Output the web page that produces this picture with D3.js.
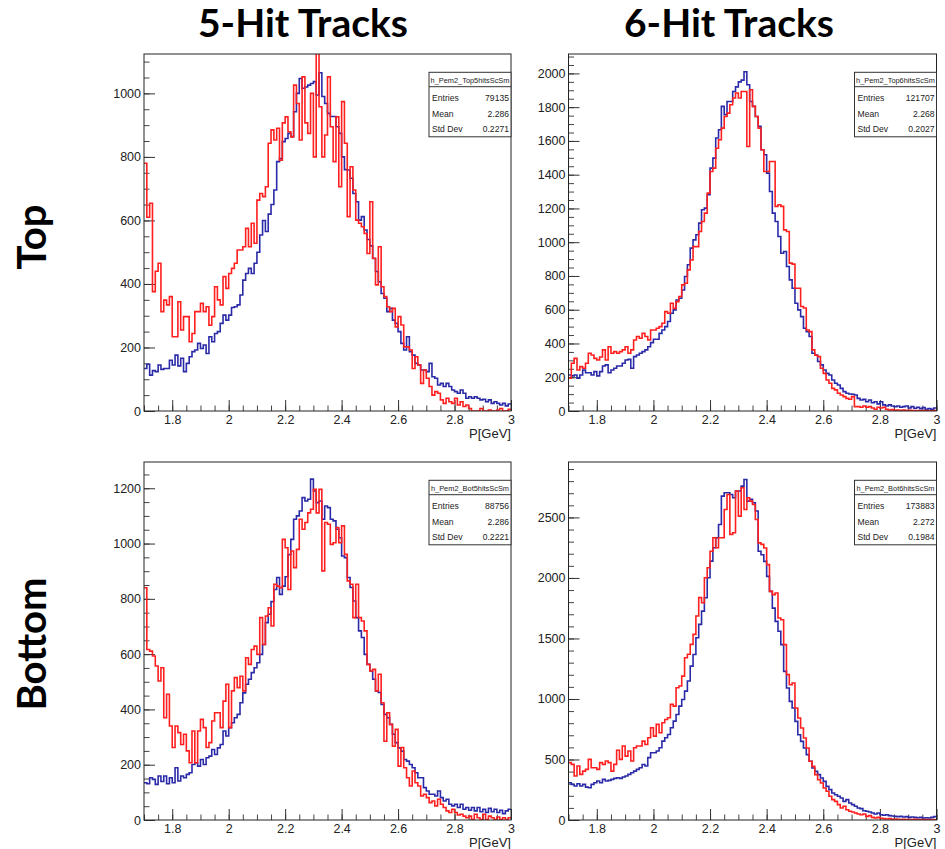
<!DOCTYPE html>
<html>
<head>
<meta charset="utf-8">
<script src="https://cdn.jsdelivr.net/npm/d3@7"></script>
<style>
  body { margin: 0; background: #fff; }
  svg text { font-family: "Liberation Sans", Arial, Helvetica, sans-serif; }
  .title { font-family: Lato, "Open Sans", sans-serif; font-weight: 700; }
</style>
</head>
<body>
<svg id="chart" width="945" height="849"></svg>
<script>
// Momentum spectra: 130 bins of 0.01 GeV starting at 1.70 GeV.
const binStart = 1.7;
const binWidth = 0.01;

const top5Blue = [
  134,147,113,127,124,145,131,134,134,160,
  145,176,142,166,124,150,171,187,192,213,
  197,208,181,234,218,244,250,276,302,286,
  302,326,328,334,365,412,433,449,433,465,
  500,554,600,565,620,650,696,785,795,848,
  858,874,864,942,1000,1047,1016,1020,1026,1031,
  1037,995,1065,990,968,937,927,927,895,874,
  800,760,759,733,685,659,601,612,570,540,
  520,480,439,407,370,355,313,323,286,276,
  250,213,192,234,187,176,150,145,129,129,
  124,150,108,103,82,87,77,87,77,66,
  61,56,66,56,40,45,40,45,40,35,
  37,29,35,24,29,24,19,24,16,22
];
const top5Red = [
  780,610,654,376,440,465,313,349,334,360,
  234,234,344,255,297,297,218,244,313,313,
  339,313,328,270,297,391,350,334,423,386,
  433,449,465,507,507,517,575,517,591,528,
  664,685,675,706,843,885,853,890,790,907,
  926,879,863,1026,968,853,1052,907,874,1000,
  800,1140,958,800,869,1052,895,785,926,706,
  974,843,612,769,696,601,591,580,559,496,
  659,481,397,517,391,360,328,313,323,265,
  297,271,202,202,192,134,171,145,87,129,
  103,77,50,61,56,35,24,40,29,24,
  40,19,29,14,19,8,0,0,0,8,
  0,0,3,0,0,3,8,0,0,5
];
const top6Blue = [
  213,208,213,194,213,243,227,227,213,233,
  208,233,267,273,227,243,253,267,267,283,
  302,306,253,322,332,342,352,362,381,405,
  425,425,460,480,500,530,579,599,658,668,
  717,797,866,965,1014,1044,1113,1192,1202,1281,
  1439,1498,1617,1666,1805,1756,1834,1834,1893,1920,
  1950,1960,2010,1933,1834,1805,1745,1686,1548,1518,
  1409,1300,1172,1123,1034,935,945,856,777,727,
  638,599,559,490,470,441,342,332,293,273,
  243,223,213,184,164,154,134,115,105,101,
  99,95,75,65,69,55,65,49,55,42,
  55,36,30,36,30,26,30,22,26,30,
  18,26,16,22,14,20,10,14,10,18
];
const top6Red = [
  194,283,312,243,263,253,283,342,332,312,
  302,320,362,302,381,342,352,342,352,362,
  381,342,362,421,441,431,460,441,421,480,
  480,490,500,520,589,579,638,608,648,678,
  747,757,836,895,974,974,1063,1123,1172,1291,
  1419,1439,1557,1607,1676,1745,1765,1814,1854,1884,
  1854,1893,1893,1567,1903,1805,1745,1676,1548,1419,
  1419,1478,1478,1212,1222,1212,1073,1063,876,870,
  727,727,619,610,480,470,362,330,322,253,
  223,184,164,134,125,105,95,85,75,70,
  85,26,26,22,30,22,26,18,10,22,
  18,22,10,6,8,4,6,3,5,2,
  4,2,3,1,2,1,2,0,1,2
];
const bot5Blue = [
  135,131,153,147,129,159,139,159,131,153,
  135,189,141,159,153,165,171,201,207,195,
  219,201,225,231,255,237,261,273,322,304,
  334,352,370,382,424,460,491,509,533,551,
  569,599,635,714,744,790,834,877,816,846,
  880,960,1015,1088,1100,1118,1166,1154,1160,1233,
  1190,1148,1154,1088,1136,1130,1088,1082,1052,1021,
  955,949,877,841,792,732,684,660,599,563,
  539,509,467,461,418,382,370,346,310,280,
  261,249,219,213,201,189,171,153,153,117,
  105,93,93,87,105,81,69,75,57,51,
  57,45,57,39,45,35,45,33,45,30,
  39,27,42,30,39,27,35,23,33,39
];
const bot5Red = [
  840,617,611,593,557,503,551,370,455,340,
  262,340,316,273,310,250,207,322,207,322,
  364,334,262,280,358,388,388,334,430,491,
  334,467,515,479,520,467,587,563,617,629,
  599,732,635,738,768,702,853,846,840,1015,
  985,834,973,913,979,1088,1052,1076,1111,1124,
  1196,1111,1196,901,1076,1070,997,1003,1058,1003,
  1064,961,865,853,732,853,732,720,684,563,
  539,545,467,527,424,285,388,346,267,328,
  195,262,189,153,123,177,135,123,87,93,
  81,63,69,51,75,57,45,33,27,39,
  27,18,21,14,8,14,2,21,8,2,
  21,2,14,8,2,11,2,8,2,8
];
const bot6Blue = [
  308,294,281,300,281,294,272,267,294,308,
  322,308,336,322,327,336,344,349,344,355,
  363,377,391,404,418,432,459,446,515,556,
  556,570,597,652,680,707,762,817,872,941,
  996,1065,1148,1271,1368,1506,1616,1726,1836,2001,
  2139,2249,2332,2442,2676,2704,2704,2690,2663,2718,
  2718,2759,2814,2635,2649,2621,2553,2220,2192,2137,
  2013,1889,1751,1641,1559,1449,1228,1091,980,925,
  815,705,650,595,540,485,430,402,375,347,
  319,278,251,223,209,196,182,154,168,140,
  127,113,99,94,77,72,66,58,50,58,
  44,39,44,36,33,30,28,30,25,28,
  22,25,22,19,22,17,19,17,22,28
];
const bot6Red = [
  474,460,363,446,377,404,418,501,432,432,
  418,474,460,487,474,404,460,576,501,611,
  528,570,487,597,611,611,652,624,680,762,
  693,790,721,803,831,845,955,941,1093,1107,
  1189,1341,1369,1451,1534,1685,1837,1795,2001,2084,
  2221,2332,2250,2332,2332,2566,2690,2360,2374,2718,
  2511,2745,2566,2663,2635,2607,2483,2290,2277,2247,
  2110,1889,1862,1875,1669,1655,1449,1201,1118,1132,
  925,843,760,677,595,485,443,375,333,306,
  264,237,196,168,154,127,99,113,85,72,
  66,58,50,44,50,30,36,22,17,22,
  14,11,8,11,6,8,6,4,6,3,
  4,3,5,2,3,2,4,2,3,2
];

// Statistics boxes (name, entries, mean, std dev)
const statNames   = ["h_Pem2_Top5hitsScSm", "h_Pem2_Top6hitsScSm", "h_Pem2_Bot5hitsScSm", "h_Pem2_Bot6hitsScSm"];
const statEntries = ["79135", "121707", "88756", "173883"];
const statMeans   = ["2.286", "2.268", "2.286", "2.272"];
const statStdDevs = ["0.2271", "0.2027", "0.2221", "0.1984"];

// Axis ticks
const xTicks = [1.8, 2, 2.2, 2.4, 2.6, 2.8, 3];
const xTickLabels = ["1.8", "2", "2.2", "2.4", "2.6", "2.8", "3"];
const xTitle = "P[GeV]";
const yTicksTop5 = [0, 200, 400, 600, 800, 1000];
const yTicksTop6 = [0, 200, 400, 600, 800, 1000, 1200, 1400, 1600, 1800, 2000];
const yTicksBot5 = [0, 200, 400, 600, 800, 1000, 1200];
const yTicksBot6 = [0, 500, 1000, 1500, 2000, 2500];

const columnTitles = ["5-Hit Tracks", "6-Hit Tracks"];
const rowTitles = ["Top", "Bottom"];

// Pad layout
const panels = [
  { blue: top5Blue, red: top5Red, yMax: 1124, yTicks: yTicksTop5, yMinor: 50,  left: 144,   right: 511,   top: 54,  bottom: 411 },
  { blue: top6Blue, red: top6Red, yMax: 2115, yTicks: yTicksTop6, yMinor: 50,  left: 568.5, right: 936.5, top: 54,  bottom: 411 },
  { blue: bot5Blue, red: bot5Red, yMax: 1295, yTicks: yTicksBot5, yMinor: 50,  left: 144,   right: 511,   top: 462, bottom: 820 },
  { blue: bot6Blue, red: bot6Red, yMax: 2958, yTicks: yTicksBot6, yMinor: 100, left: 568.5, right: 936.5, top: 462, bottom: 820 }
];

const svg = d3.select("#chart");
const blueColor = "#2a2aa8";
const redColor = "#ff1f1f";

panels.forEach((p, k) => {
  const x = d3.scaleLinear().domain([1.7, 3]).range([p.left, p.right]);
  const y = d3.scaleLinear().domain([0, p.yMax]).range([p.bottom, p.top]);
  const g = svg.append("g");

  const clipId = "clip" + k;
  svg.append("clipPath").attr("id", clipId)
    .append("rect")
    .attr("x", p.left).attr("y", p.top)
    .attr("width", p.right - p.left).attr("height", p.bottom - p.top);

  // minor ticks
  const xMinor = d3.range(1.7, 3.0001, 0.05).map(v => +v.toFixed(2));
  g.append("g").attr("transform", `translate(0,${p.bottom})`)
    .call(d3.axisBottom(x).tickValues(xMinor).tickSize(-5.5).tickFormat(""))
    .call(a => a.select(".domain").remove())
    .call(a => a.selectAll("line").attr("stroke", "#444"));
  const yMinorVals = d3.range(0, p.yMax, p.yMinor);
  g.append("g").attr("transform", `translate(${p.left},0)`)
    .call(d3.axisLeft(y).tickValues(yMinorVals).tickSize(-5.5).tickFormat(""))
    .call(a => a.select(".domain").remove())
    .call(a => a.selectAll("line").attr("stroke", "#444"));

  // major ticks + labels
  g.append("g").attr("transform", `translate(0,${p.bottom})`)
    .call(d3.axisBottom(x).tickValues(xTicks).tickSize(-11).tickPadding(4.5)
      .tickFormat((d, i) => xTickLabels[i]))
    .call(a => a.select(".domain").remove())
    .call(a => a.selectAll("line").attr("stroke", "#333"))
    .call(a => a.selectAll("text").attr("font-size", 12.5).attr("fill", "#222")
      .attr("font-family", "'Liberation Sans', Arial, sans-serif"));
  g.append("g").attr("transform", `translate(${p.left},0)`)
    .call(d3.axisLeft(y).tickValues(p.yTicks).tickSize(-11).tickPadding(3)
      .tickFormat(d3.format("d")))
    .call(a => a.select(".domain").remove())
    .call(a => a.selectAll("line").attr("stroke", "#333"))
    .call(a => a.selectAll("text").attr("font-size", 12.5).attr("fill", "#222")
      .attr("font-family", "'Liberation Sans', Arial, sans-serif"));

  // histograms as step outlines
  const line = d3.line()
    .x(d => x(d[0]))
    .y(d => y(d[1]))
    .curve(d3.curveStepAfter);
  const toPoints = vals => {
    const pts = vals.map((v, i) => [binStart + i * binWidth, v]);
    pts.push([binStart + vals.length * binWidth, vals[vals.length - 1]]);
    return pts;
  };
  const plot = g.append("g").attr("clip-path", `url(#${clipId})`);
  plot.append("path").attr("d", line(toPoints(p.blue)))
    .attr("fill", "none").attr("stroke", blueColor).attr("stroke-width", 1.6);
  plot.append("path").attr("d", line(toPoints(p.red)))
    .attr("fill", "none").attr("stroke", redColor).attr("stroke-width", 1.6);

  // frame
  g.append("rect")
    .attr("x", p.left).attr("y", p.top)
    .attr("width", p.right - p.left).attr("height", p.bottom - p.top)
    .attr("fill", "none").attr("stroke", "#222").attr("stroke-width", 1);

  // axis title
  g.append("text")
    .attr("x", p.right).attr("y", p.bottom + 27)
    .attr("text-anchor", "end").attr("font-size", 13).attr("fill", "#222")
    .text(xTitle);

  // statistics box
  const bw = 82, bh = 64.5;
  const bx = p.right - bw, by = p.top + 18.3;
  const sb = g.append("g");
  sb.append("rect").attr("x", bx).attr("y", by).attr("width", bw).attr("height", bh)
    .attr("fill", "#fff").attr("stroke", "#333").attr("stroke-width", 1);
  sb.append("line").attr("x1", bx).attr("x2", bx + bw)
    .attr("y1", by + 14.4).attr("y2", by + 14.4)
    .attr("stroke", "#333").attr("stroke-width", 1);
  sb.append("text").attr("x", bx + bw / 2).attr("y", by + 10.8)
    .attr("text-anchor", "middle").attr("font-size", 7.4).attr("fill", "#222")
    .text(statNames[k]);
  const rows = [["Entries", statEntries[k]], ["Mean", statMeans[k]], ["Std Dev", statStdDevs[k]]];
  rows.forEach((r, j) => {
    const ty = by + 28.6 + j * 15.6;
    sb.append("text").attr("x", bx + 3).attr("y", ty)
      .attr("font-size", 8.6).attr("fill", "#222").text(r[0]);
    sb.append("text").attr("x", bx + bw - 2).attr("y", ty)
      .attr("text-anchor", "end").attr("font-size", 8.6).attr("fill", "#222").text(r[1]);
  });
});

// column and row headings
const colCenters = [303, 729];
columnTitles.forEach((t, i) => {
  svg.append("text").attr("class", "title")
    .attr("x", colCenters[i]).attr("y", 37)
    .attr("text-anchor", "middle").attr("font-size", 39).attr("fill", "#000")
    .text(t);
});
const rowCenters = [237, 644];
rowTitles.forEach((t, i) => {
  svg.append("text").attr("class", "title")
    .attr("transform", `translate(46,${rowCenters[i]}) rotate(-90)`)
    .attr("text-anchor", "middle").attr("font-size", 40).attr("fill", "#000")
    .text(t);
});
</script>
</body>
</html>
